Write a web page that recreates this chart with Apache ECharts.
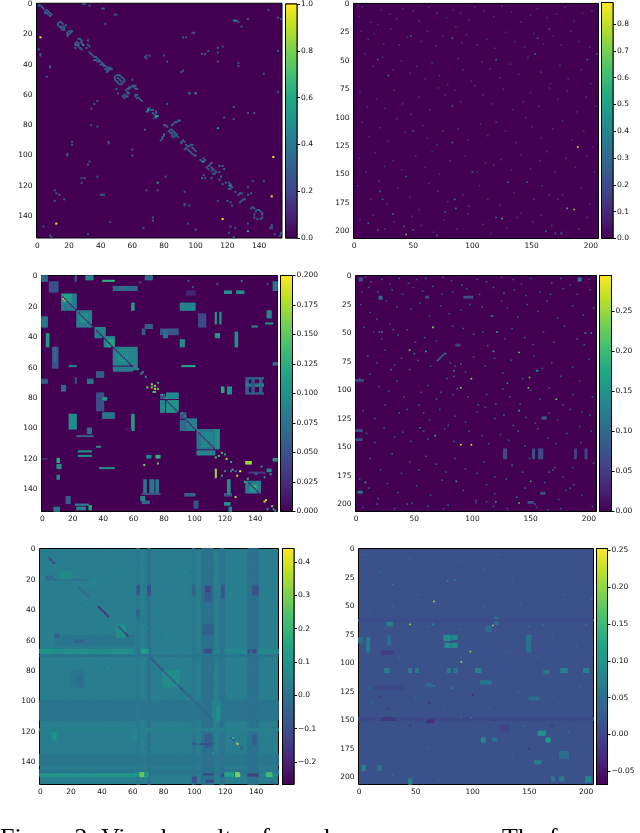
<!DOCTYPE html>
<html><head><meta charset="utf-8">
<style>html,body{margin:0;padding:0;background:#fff;overflow:hidden}#c{width:640px;height:833px}</style>
<script src="https://cdn.jsdelivr.net/npm/echarts@6/dist/echarts.min.js"></script>
</head><body><div id="c"></div>
<script>
// matrix sizes
const sizeLeft = 155, sizeRight = 207;
const tickStepLeft = 20, tickStepRightX = 50, tickStepRightY = 25;
// colorbar ranges and ticks
const range1=[0,1.0], range2=[0,0.88], range3=[0,0.2], range4=[0,0.295], range5=[-0.268,0.441], range6=[-0.068,0.2527];
const ticks1=[0,0.2,0.4,0.6,0.8,1.0];
const ticks2=[0,0.1,0.2,0.3,0.4,0.5,0.6,0.7,0.8];
const ticks3=[0,0.025,0.05,0.075,0.1,0.125,0.15,0.175,0.2];
const ticks4=[0,0.05,0.1,0.15,0.2,0.25];
const ticks5=[-0.2,-0.1,0,0.1,0.2,0.3,0.4];
const ticks6=[-0.05,0,0.05,0.1,0.15,0.2,0.25];
// background level of each matrix
const base1=0, base2=0, base3=0, base4=0, base5=0.03, base6=0.012;

// Panel 1: sparse cells, flat lists of column,row
const p1Ring=[1,1,2,1,3,2,4,3,6,4,7,5,5,5,5,6,6,6,7,7,8,6,8,8,9,7,14,12,15,12,16,13,13,13,13,14,14,15,15,15,16,15,17,15,15,16,16,17,17,16,17,17,18,14,20,18,21,18,22,18,19,19,19,20,20,20,19,21,21,19,26,23,27,23,28,24,25,25,24,26,26,26,28,25,24,27,25,27,26,27,28,26,29,27,24,29,26,28,27,29,28,30,32,24,32,27,31,29,33,28,33,32,34,33,35,34,36,35,37,35,38,36,36,37,37,37,38,38,39,37,39,38,40,38,41,39,40,40,41,40,42,40,42,41,43,41,44,42,45,42,46,42,43,43,44,44,45,44,45,43,46,43,47,43,44,45,50,47,51,47,52,47,49,48,53,48,49,49,51,49,54,49,49,50,52,50,53,51,55,50,50,51,51,52,53,53,55,51,52,53,54,52,58,55,59,55,60,54,61,54,62,54,57,56,58,56,56,57,57,58,62,56,63,56,55,60,54,61,56,61,55,62,57,61,57,59,58,59,50,56,51,59,62,60,63,60,62,61,63,62,64,62,65,63,66,64,70,69,71,69,72,70,73,70,69,71,70,71,73,72,74,73,75,72,74,75,75,75,75,71,80,80,81,80,82,81,87,78,88,78,89,77,90,77,86,79,85,80,84,83,85,83,83,84,84,85,85,85,86,84,86,86,87,85,85,87,87,87,88,87,88,86,89,88,86,88,80,87,79,88,79,89,78,90,80,86,91,91,92,90,93,91,91,92,94,93,94,95,93,96,95,94,97,93,98,93,96,94,95,96,98,95,96,97,97,98,99,96,100,97,98,99,99,100,100,100,103,103,104,104,105,102,106,103,108,107,109,106,110,105,107,108,110,108,108,109,110,110,111,109,112,110,111,112,112,112,113,111,115,107,117,107,115,111,118,109,105,113,104,115,106,115,110,115,116,114,115,116,117,119,119,118,121,118,121,120,122,119,123,121,121,122,122,122,125,124,128,125,129,125,127,126,129,130,130,129,131,129,128,131,133,126,135,125,135,135,136,134,137,135,138,137,139,136,140,136,141,137,142,138,142,139,142,141,141,142,139,142,137,141,137,139];
const p1Off=[29,0,30,0,33,1,41,3,42,3,49,7,50,7,124,11,126,11,127,12,133,10,129,15,43,13,1,30,2,33,2,34,92,22,94,22,98,19,99,19,8,41,8,42,114,29,117,28,114,32,104,33,106,33,108,31,69,36,71,34,69,34,68,35,80,34,82,38,114,38,127,39,127,41,92,44,91,45,143,46,6,48,61,55,60,50,38,64,36,66,34,69,82,66,124,68,76,74,124,76,118,75,34,80,38,81,68,83,114,82,133,72,137,72,22,91,22,93,45,91,45,92,19,99,19,100,60,96,60,100,33,104,32,106,28,115,30,115,28,118,38,114,81,114,136,117,133,121,143,117,11,123,12,125,14,126,40,126,41,126,42,126,69,123,76,123,93,124,11,130,17,129,93,132,93,133,96,133,114,130,122,131,120,130,123,133,73,141,73,143,46,144,95,145,133,145,125,148,122,147,67,148,4,147,32,152,8,153,9,154,121,151,124,154,58,155,100,149,148,147,147,148,148,148,148,146,154,151,153,153,154,152,150,152,152,9,154,10,152,58,146,4,152,31];
const p1Mid=[125,11,29,27,76,74,75,74,76,118,96,59,100,59,70,70,105,104,122,120,133,150,114,82];
const p1Top=[2,22,12,145,149,101,148,127,117,142];

// Panel 2
const p2Dim=[3,2,4,11,7,3,14,16,20,18,23,5,30,9,36,13,41,4,50,6,55,15,63,3,70,8,78,12,84,5,86,20,90,8,97,14,102,3,110,6,118,11,125,2,133,7,141,16,149,10,155,4,163,12,171,9,178,3,186,15,193,8,201,6,6,24,12,31,17,26,25,35,31,22,38,36,45,29,57,33,62,24,69,37,75,28,91,34,95,27,104,36,112,31,119,39,128,25,136,33,144,38,152,26,160,35,168,28,175,36,183,24,190,33,199,38,9,44,16,55,24,47,33,58,40,50,47,61,53,55,60,66,66,52,72,63,79,71,88,48,92,58,99,68,108,51,115,57,123,65,132,53,139,62,147,47,158,60,166,70,174,54,181,66,192,58,200,70,5,78,11,91,19,84,26,92,34,76,41,88,48,97,55,82,64,93,71,74,77,80,85,76,90,86,102,72,109,80,117,88,126,75,134,93,143,86,149,78,156,90,165,74,172,84,180,77,188,95,196,82,204,90,7,104,13,117,22,109,29,121,36,101,43,113,58,107,62,118,70,124,75,112,88,110,96,120,107,106,113,116,120,104,128,112,137,122,145,100,150,108,158,118,168,110,176,103,184,120,194,112,202,126,4,136,10,148,18,131,26,143,33,138,40,146,52,134,60,144,66,130,72,150,81,138,94,134,104,148,111,140,118,142,124,137,133,146,141,133,149,145,157,138,163,130,170,148,179,136,187,144,197,134,203,148,3,160,14,172,21,156,28,176,37,162,47,170,55,181,63,158,71,165,79,174,92,168,97,178,106,160,113,172,123,177,135,166,141,184,152,172,159,160,165,168,172,172,176,168,192,162,199,176,5,190,16,186,26,198,34,192,49,187,57,195,67,201,76,190,87,198,96,185,109,194,116,202,129,197,138,188,151,192,158,186,167,195,176,201,190,198,197,188];
const p2Mid=[165,22,155,30,153,44,20,49,83,30,120,49,205,44,197,49,29,63,48,28,83,90,50,112,83,122,44,152,100,148,130,157,146,157,22,165,24,172,85,172,86,180,77,183,12,193,33,185,20,199,50,199,42,196,70,204,170,202,175,202,162,200,120,188];
const p2Top=[189,126,0.82,186,181,0.7,125,189,0.58,180,180,0.55,44,203,0.62];

// Panel 3: blocks as column0,column1,row0,row1,value
const p3Blocks=[[0,3,0,3,0.07],[5,10,4,10,0.05],[13,22,12,22,0.085],[14,19,12,17,0.115],[23,32,23,33,0.085],[25,30,25,30,0.105],[35,41,34,40,0.09],[41,47,40,46,0.095],[43,47,42,46,0.12],[47,59,47,58,0.09],[50,56,49,56,0.1],[60,62,47,61,0.09],[47,59,60,62,0.085],[78,80,78,80,0.05],[82,89,77,80,0.095],[78,80,82,89,0.095],[82,89,82,89,0.105],[91,94,90,93,0.05],[95,101,94,101,0.085],[91,94,95,101,0.07],[102,113,101,113,0.08],[105,112,103,112,0.095],[114,116,101,113,0.1],[102,113,115,117,0.09],[134,143,135,142,0.085],[137,141,137,141,0.11],[91,100,18,22,0.09],[59,60,18,22,0.11],[47,62,7,9,0.07],[40,47,3,3,0.13],[29,33,0,2,0.09],[22,22,0,3,0.06],[68,72,0,2,0.07],[0,3,27,33,0.08],[3,4,38,46,0.11],[7,10,47,60,0.05],[8,9,47,56,0.07],[18,22,59,59,0.09],[18,22,91,100,0.1],[59,60,91,101,0.11],[91,93,42,46,0.1],[92,100,59,59,0.12],[36,40,77,88,0.05],[40,42,80,81,0.11],[40,47,90,93,0.08],[78,89,35,38,0.055],[80,82,36,40,0.075],[114,114,24,31,0.11],[117,117,24,31,0.11],[127,128,37,46,0.1],[24,32,115,115,0.1],[24,32,118,118,0.1],[23,33,105,105,0.06],[30,32,100,103,0.07],[38,47,126,126,0.1],[36,38,112,112,0.09],[134,137,122,123,0.17],[114,116,38,40,0.11],[118,119,73,76,0.12],[122,124,73,77,0.1],[114,114,127,132,0.17],[134,145,67,67,0.07],[134,145,77,77,0.07],[134,135,67,77,0.06],[143,144,67,77,0.06],[134,145,71,72,0.08],[138,139,68,76,0.05],[67,68,134,143,0.08],[71,73,134,143,0.08],[75,76,134,143,0.08],[66,77,143,143,0.05],[0,3,68,70,0.06],[30,33,68,70,0.08],[22,22,67,70,0.05],[36,40,63,66,0.06],[13,15,72,75,0.07],[103,107,25,33,0.045],[138,141,33,33,0.09],[148,150,23,27,0.09],[147,151,31,31,0.1],[66,67,35,38,0.06],[68,72,32,34,0.06],[152,154,4,9,0.08],[152,154,57,58,0.07],[66,70,148,149,0.07],[94,100,143,144,0.06],[22,30,150,150,0.09],[23,28,152,153,0.09],[31,32,151,153,0.12],[8,11,152,154,0.08],[16,18,145,149,0.06],[0,3,120,120,0.02],[10,11,120,122,0.12],[10,12,124,126,0.1],[10,11,131,133,0.09],[120,124,10,11,0.1],[128,132,10,11,0.1],[65,67,145,147,0.09],[75,77,118,119,0.13],[69,71,118,119,0.1],[64,65,4,4,0.03],[120,124,143,144,0.05],[136,146,129,129,0.03],[148,150,127,128,0.1],[152,154,120,121,0.11],[140,141,129,130,0.05],[122,123,134,143,0.1],[120,123,149,150,0.1],[123,124,152,154,0.1],[100,102,148,152,0.05],[95,100,10,12,0.02],[55,58,100,101,0.01]];
const p3Diag=[[14,22,0.02],[24,33,0.02],[36,46,0.01],[47,59,0.02],[82,89,0.02],[95,101,0.02],[103,113,0.02],[136,143,0.02]];
const p3Cells=[69,73,0.16,72,71,0.17,74,74,0.18,74,72,0.17,72,73,0.16,76,74,0.15,74,76,0.15,14,15,0.18,15,16,0.17,146,148,0.19,147,147,0.18,151,151,0.16,130,128,0.19,128,131,0.18,121,120,0.17,67,124,0.16,76,123,0.15,127,145,0.17,140,138,0.15,65,64,0.11,63,61,0.1,66,63,0.11,68,66,0.1,76,70,0.12,73,76,0.13,79,78,0.13,81,80,0.12,92,90,0.13,94,92,0.12,114,119,0.14,116,118,0.14,118,116,0.14,120,117,0.12,124,122,0.12,125,127,0.13,135,133,0.13,133,135,0.13,153,154,0.1,152,153,0.1,148,153,0.11,144,125,0.1,146,132,0.1,150,130,0.11,120,128,0.09,124,128,0.1,118,131,0.1,127,128,0.09,96,3,0.06,99,7,0.05,115,5,0.06,131,3,0.08,148,5,0.05,160,5,0.05];

// Panel 4
const p4Patches=[[127,129,152,160,0.07],[152,153,152,160,0.08],[157,160,152,160,0.07],[188,189,152,160,0.06],[197,198,152,160,0.06],[0,5,135,136,0.07],[0,5,143,144,0.07],[191,193,2,4,0.12],[20,22,18,20,0.1],[3,5,2,4,0.08],[0,6,91,92,0.07],[2,5,189,190,0.12],[86,89,60,61,0.05],[159,162,190,191,0.07],[93,100,18,19,0.07],[60,62,18,19,0.07],[160,163,124,125,0.09],[148,152,198,199,0.07]];
const p4Dim=[8,1,13,5,22,3,29,7,37,2,45,6,52,3,60,2,75,1,82,4,91,8,104,3,112,5,125,1,135,3,142,7,150,2,168,6,176,2,184,8,200,3,5,14,11,10,19,14,31,12,40,16,49,10,57,13,66,9,74,16,83,14,95,11,106,16,118,10,127,15,136,12,146,17,158,14,167,16,178,11,190,16,201,12,4,25,12,32,18,38,26,22,35,27,47,29,55,24,63,35,73,26,80,33,90,30,98,25,108,27,116,35,125,22,130,28,139,36,147,25,156,31,164,22,173,37,186,26,195,34,204,28,7,45,15,49,22,55,29,42,36,52,44,47,51,58,59,54,69,57,83,44,92,46,101,51,109,49,113,61,128,55,134,46,145,54,152,60,161,49,170,58,179,44,190,55,196,60,10,70,18,76,25,65,33,78,39,72,46,82,53,74,64,79,81,76,85,79,90,77,84,88,78,90,94,84,101,71,111,79,119,72,126,85,133,74,143,90,153,70,160,81,168,76,176,88,186,80,192,92,200,73,3,90,12,86,20,97,28,101,35,92,41,106,56,102,62,96,69,108,73,102,83,104,87,99,96,106,105,113,112,104,120,112,126,99,132,106,141,112,150,100,158,108,166,98,178,113,186,104,194,119,203,106,6,118,16,125,25,113,37,120,44,117,54,113,58,120,63,126,72,117,79,131,85,123,94,128,104,119,111,115,119,125,127,122,135,131,146,124,154,129,166,120,173,126,184,117,192,132,201,122,9,138,16,146,24,133,33,141,40,137,47,145,58,136,62,143,76,134,84,145,97,136,108,140,114,147,124,139,131,144,139,136,145,149,156,134,165,142,172,147,181,138,193,146,202,136,12,160,21,170,31,156,39,173,46,163,54,170,60,158,69,165,77,172,85,160,94,169,104,173,110,163,119,176,134,166,143,172,149,160,166,172,169,170,171,168,178,176,186,168,204,164,3,178,11,186,19,195,27,182,36,190,44,200,52,184,64,192,74,179,79,201,92,188,103,197,112,183,119,191,129,178,138,194,145,186,154,200,162,181,174,196,180,188,184,186,187,183,194,192,6,203,18,200,33,204,48,199,62,202,75,204,103,199,112,198,118,202,130,204,155,203,165,205,176,204,203,202];
const p4Stripe=[70,74,71,73,72,72,73,71,74,70,75,69,76,68,77,68];
const p4Mid=[60,66,0.18,84,83,0.16,156,83,0.16,70,74,0.15,8,181,0.18,86,180,0.17,150,180,0.18,55,133,0.17,120,198,0.17,202,50,0.15,197,50,0.15,121,49,0.17,118,66,0.18,140,118,0.18,68,140,0.17,50,68,0.13,30,82,0.12,155,83,0.13,130,94,0.15,117,35,0.14,20,49,0.12,22,49,0.13,32,47,0.1];
const p4Top=[90,148,0.29,99,148,0.28,66,45,0.25,46,65,0.24,140,67,0.21,90,98,0.25,149,89,0.23,148,98,0.23,99,90,0.24,140,199,0.21,172,108,0.22];

// Panel 5
const p5Patches=[[0,154,100,112,0.005],[0,154,135,142,0.012],[0,60,66,68,0.08],[115,154,66,68,0.06],[10,60,57,63,0.01],[10,60,70,70,-0.01],[0,154,70,70,0.0],[0,154,145,147,0.015],[0,62,148,148,0.12],[0,62,149,149,0.09],[70,71,0,154,0.0],[63,64,0,154,0.015],[63,64,24,30,-0.08],[63,64,40,44,-0.05],[70,71,24,30,-0.1],[99,100,0,154,0.01],[99,100,24,30,-0.04],[105,112,0,154,0.0],[107,111,24,34,-0.06],[108,110,25,28,-0.12],[106,112,50,56,-0.05],[107,111,66,68,-0.11],[107,111,122,130,-0.06],[106,112,148,148,-0.14],[108,112,152,153,-0.12],[117,119,0,154,0.005],[118,119,24,32,-0.08],[135,141,0,154,0.0],[138,141,24,30,-0.09],[135,136,66,68,-0.1],[138,140,66,68,-0.12],[135,141,148,149,-0.13],[138,140,122,128,-0.06],[118,119,148,149,-0.12],[99,101,150,153,-0.1],[99,101,128,128,-0.08],[104,112,128,128,-0.1],[80,90,80,90,0.08],[13,20,15,20,0.07],[50,55,50,58,0.08],[33,37,20,24,0.05],[112,117,100,112,0.045],[115,116,104,112,0.09],[8,10,120,125,0.09],[20,28,80,90,0.01],[24,27,84,90,-0.01],[66,70,66,68,0.12],[145,154,148,148,0.09],[120,125,147,149,0.14],[62,70,147,149,0.11],[147,150,147,149,0.22],[65,67,147,149,0.27],[127,129,147,149,0.3],[120,122,148,148,0.17],[0,8,66,68,0.1],[4,8,18,20,-0.02],[10,12,56,58,-0.05],[22,28,60,61,-0.05],[4,30,20,20,0.0],[0,154,118,119,0.04],[60,63,120,125,0.05]];
const p5Diag=[[6,9,-0.12],[25,31,-0.03],[38,44,-0.16],[51,57,-0.15],[72,80,-0.08],[80,93,-0.1],[93,112,-0.05],[124,131,-0.08]];
const p5Cells=[128,128,0.38,127,127,0.2,125,124,0.18,129,130,0.15,10,20,-0.05,4,20,-0.04,45,2,0.07,30,8,0.07,13,27,0.07,48,14,0.08,60,22,0.07,84,9,0.07,94,15,0.08,30,36,0.08,18,40,0.07,60,33,0.07,75,40,0.07,90,44,0.08,9,50,0.07,25,48,0.07,38,52,0.08,70,52,0.07,82,58,0.08,27,72,0.07,44,78,0.08,57,75,0.07,92,70,0.07,12,84,0.07,45,91,0.1,33,95,0.07,76,100,0.07,60,96,0.08,90,104,0.07,124,96,0.08,146,90,0.07,152,103,0.08,128,82,0.07,126,70,0.07,135,114,0.07,147,120,0.08,152,130,0.07,15,130,0.07,38,126,0.07,72,130,0.08,88,120,0.08,93,136,0.07,112,134,0.08,150,153,-0.08,152,154,-0.06];

// Panel 6
const p6Patches=[[75,80,76,80,0.09],[82,86,76,79,0.08],[76,80,83,86,0.09],[82,86,83,86,0.09],[7,9,78,90,0.065],[25,29,64,67,0.075],[26,27,76,84,0.055],[23,26,105,108,0.075],[44,46,105,108,0.07],[50,52,105,108,0.065],[103,107,105,108,0.075],[78,80,105,108,0.065],[84,86,105,108,0.06],[158,164,160,163,0.095],[165,168,166,169,0.105],[108,111,166,169,0.08],[118,121,166,168,0.06],[120,122,60,66,0.055],[112,116,68,72,0.045],[148,151,76,90,0.055],[178,183,105,108,0.075],[163,167,107,109,0.065],[155,160,186,188,0.075],[3,5,190,194,0.08],[17,19,190,194,0.06],[200,204,200,204,0.085],[177,180,200,203,0.07],[170,172,200,203,0.06],[44,46,202,206,0.08],[107,116,116,118,0.06],[60,64,118,120,0.045],[177,184,178,183,0.05],[198,202,105,108,0.07],[0,3,78,82,0.05],[0,206,148,150,0.005],[20,32,148,150,-0.015],[60,66,150,152,-0.025],[15,40,120,123,0.004],[0,206,62,63,0.005],[20,30,90,92,-0.01],[150,158,130,132,0.045],[125,132,155,160,0.0]];
const p6Cells=[66,46,0.22,45,66,0.19,118,67,0.2,98,90,0.2,90,99,0.2,99,148,0.11,90,148,0.1,65,66,0.09,66,120,0.09,82,122,0.09,8,122,0.08,19,20,0.06,30,31,0.07,78,28,0.08,84,27,0.07,110,18,0.05,135,28,0.05,205,44,0.06,200,66,0.07,150,68,0.06,162,66,0.06,3,5,0.05,90,10,0.05,45,8,0.05,122,5,0.05,170,10,0.05,30,50,0.05,52,40,0.05,110,50,0.05,142,48,0.05,180,40,0.05,10,56,0.05,60,68,0.05,88,70,0.05,170,75,0.05,192,85,0.05,35,95,0.05,130,90,0.05,158,95,0.05,12,135,0.05,50,130,0.05,75,138,0.05,115,140,0.05,140,125,0.05,170,130,0.05,195,120,0.05,30,155,0.05,145,155,0.05,185,160,0.07,60,175,0.05,90,185,0.05,135,180,0.05,150,190,0.05,30,198,0.05,70,202,0.05,130,196,0.05,25,140,-0.03,45,155,-0.03,100,128,-0.035,18,130,-0.03,62,135,-0.03,120,150,-0.03,170,155,-0.03,150,175,-0.03];

const viridis=['#440154','#482475','#414487','#355f8d','#2a788e','#21918c','#22a884','#44bf70','#7ad151','#bddf26','#fde725'];

function pairs(flat,v){const o=[];for(let i=0;i+1<flat.length;i+=2)o.push([flat[i],flat[i+1],v]);return o;}
function triples(flat){const o=[];for(let i=0;i+2<flat.length;i+=3)o.push([flat[i],flat[i+1],flat[i+2]]);return o;}
function blocks(list){const o=[];list.forEach(b=>{for(let c=b[0];c<=b[1];c++)for(let r=b[2];r<=b[3];r++)o.push([c,r,b[4]]);});return o;}
function diag(list){const o=[];list.forEach(d=>{for(let i=d[0];i<=d[1];i++)o.push([i,i,d[2]]);});return o;}
function merge(){const m=new Map();for(const l of arguments)l.forEach(p=>m.set(p[0]*1000+p[1],p));return Array.from(m.values());}

const panels=[
 {n:sizeLeft,xs:tickStepLeft,ys:tickStepLeft,range:range1,ticks:ticks1,dec:1,base:base1,box:[36.5,2.5,245.5,235.5],bar:[285.5,11.5],
  data:merge(pairs(p1Off,0.26),pairs(p1Ring,0.3),pairs(p1Mid,0.55),pairs(p1Top,0.98))},
 {n:sizeRight,xs:tickStepRightX,ys:tickStepRightY,range:range2,ticks:ticks2,dec:1,base:base2,box:[353.5,2.5,245,236],bar:[601.5,11.5],
  data:merge(pairs(p2Dim,0.12),pairs(p2Mid,0.3),triples(p2Top))},
 {n:sizeLeft,xs:tickStepLeft,ys:tickStepLeft,range:range3,ticks:ticks3,dec:3,base:base3,box:[41.5,275.5,236,236],bar:[280.5,12],
  data:merge(blocks(p3Blocks),diag(p3Diag),triples(p3Cells))},
 {n:sizeRight,xs:tickStepRightX,ys:tickStepRightY,range:range4,ticks:ticks4,dec:2,base:base4,box:[355.5,275.5,241,236],bar:[599.5,12],
  data:merge(pairs(p4Dim,0.075),blocks(p4Patches),pairs(p4Stripe,0.1),triples(p4Mid),triples(p4Top))},
 {n:sizeLeft,xs:tickStepLeft,ys:tickStepLeft,range:range5,ticks:ticks5,dec:1,base:base5,box:[39.5,548.5,239,236],bar:[282.5,11.5],
  data:merge(blocks(p5Patches),diag(p5Diag),triples(p5Cells))},
 {n:sizeRight,xs:tickStepRightX,ys:tickStepRightY,range:range6,ticks:ticks6,dec:2,base:base6,box:[358.5,548.5,235,236],bar:[596.5,11],
  data:merge(blocks(p6Patches),triples(p6Cells))}
];

const font='DejaVu Sans', fs=7.5, ink='#111';
const option={animation:false,backgroundColor:'#fff',textStyle:{fontFamily:font},grid:[],xAxis:[],yAxis:[],series:[],visualMap:[],
 title:[
  {text:'Figure 2: Visual results of rough sparse',left:0,top:826,padding:0,textStyle:{fontFamily:'Liberation Serif',fontSize:26,fontWeight:'normal',color:'#000'}},
  {text:'The f',left:502,top:826,padding:0,textStyle:{fontFamily:'Liberation Serif',fontSize:26,fontWeight:'normal',color:'#000'}}
 ]};
function fmt(dec){return v=>{const s=Math.abs(v).toFixed(dec);return (v<-1e-9?'\u2212':'')+s;};}
panels.forEach((p,i)=>{
 const cats=Array.from({length:p.n},(_,k)=>String(k));
 const xi=k=>k%p.xs===0, yi=k=>k%p.ys===0;
 const [l,t,w,h]=p.box;
 const gi=option.grid.length;
 const bg=echarts.color.lerp((p.base-p.range[0])/(p.range[1]-p.range[0]),viridis);
 option.grid.push({left:l,top:t,width:w,height:h,show:true,backgroundColor:bg,borderColor:'#000',borderWidth:1,containLabel:false});
 option.xAxis.push({gridIndex:gi,type:'category',data:cats,axisLine:{show:false},splitLine:{show:false},
  axisTick:{alignWithLabel:true,interval:xi,length:3,lineStyle:{color:'#000',width:1}},
  axisLabel:{interval:xi,margin:4,fontSize:fs,color:ink,fontFamily:font,hideOverlap:false}});
 option.yAxis.push({gridIndex:gi,type:'category',data:cats,inverse:true,axisLine:{show:false},splitLine:{show:false},
  axisTick:{alignWithLabel:true,interval:yi,length:3,lineStyle:{color:'#000',width:1}},
  axisLabel:{interval:yi,margin:4,fontSize:fs,color:ink,fontFamily:font,hideOverlap:false}});
 const si=option.series.length;
 option.series.push({type:'heatmap',xAxisIndex:gi,yAxisIndex:gi,data:p.data,progressive:0,silent:true,emphasis:{disabled:true},itemStyle:{borderWidth:0}});
 option.visualMap.push({show:false,seriesIndex:si,dimension:2,min:p.range[0],max:p.range[1],inRange:{color:viridis}});
 // colorbar
 const bi=option.grid.length;
 option.grid.push({left:p.bar[0],top:t,width:p.bar[1],height:h,show:true,borderColor:'#000',borderWidth:1});
 option.xAxis.push({gridIndex:bi,type:'category',data:['cb'],show:false});
 option.yAxis.push({gridIndex:bi,type:'value',position:'right',min:p.range[0],max:p.range[1],scale:true,splitLine:{show:false},axisLine:{show:false},
  axisTick:{show:true,customValues:p.ticks,length:3,lineStyle:{color:'#000',width:1}},
  axisLabel:{customValues:p.ticks,formatter:fmt(p.dec),margin:4,fontSize:fs,color:ink,fontFamily:font,hideOverlap:false}});
 option.series.push({type:'custom',xAxisIndex:bi,yAxisIndex:bi,silent:true,clip:false,data:[[0,p.range[0],p.range[1]]],encode:{x:0,y:[1,2]},
  renderItem:(params,api)=>{
   const a=api.coord([0,api.value(2)]), b=api.coord([0,api.value(1)]), bw=api.size([1,0])[0];
   return {type:'rect',shape:{x:a[0]-bw/2,y:a[1],width:bw,height:b[1]-a[1]},
    style:{fill:new echarts.graphic.LinearGradient(0,0,0,1,viridis.slice().reverse().map((c,k)=>({offset:k/10,color:c}))),stroke:'#000',lineWidth:1}};
  }});
});
const chart=echarts.init(document.getElementById('c'),null,{renderer:'canvas',width:640,height:833});
chart.setOption(option);
</script></body></html>
